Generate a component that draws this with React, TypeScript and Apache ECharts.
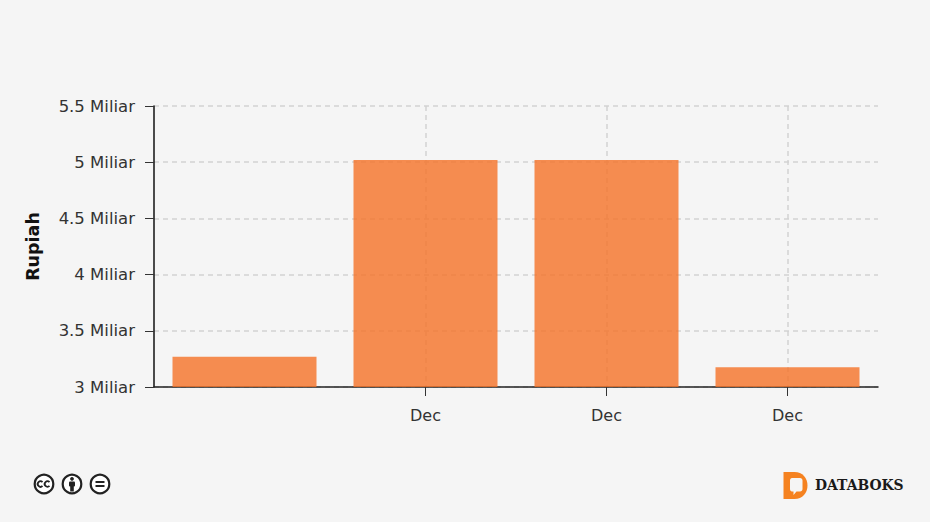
import React, { useEffect, useRef } from "react";
import * as echarts from "echarts";

const categories = ["", "Dec", "Dec", "Dec"];
const values = [3.27, 5.02, 5.02, 3.175];
const yUnit = "Miliar";
const yName = "Rupiah";
const brand = "DATABOKS";

const BG = "#f5f5f5";
const ORANGE = "#f57227";

echarts.graphic.registerShape(
  "dbkOuter",
  echarts.graphic.extendPath("M0 0H11C19 0 24 6 24 13.5C24 21 19 27 11 27H0Z", {})
);
echarts.graphic.registerShape(
  "dbkInner",
  echarts.graphic.extendPath("M2 0H10C11.5 0 12.5 1 12.5 2.5V11C12.5 12.5 11.5 13.5 10 13.5H6.5L3.5 17V13.5H2C.8 13.5 0 12.5 0 11V2.5C0 1 .8 0 2 0Z", {})
);

const ring = (x: number) => ({
  type: "circle",
  shape: { cx: x, cy: 484, r: 9.3 },
  style: { fill: "#ffffff", stroke: "#222222", lineWidth: 2.2 },
});
const ccArc = (cx: number) => ({
  type: "arc",
  shape: { cx, cy: 484, r: 2.8, startAngle: Math.PI * 0.25, endAngle: Math.PI * 1.75, clockwise: true },
  style: { stroke: "#222222", lineWidth: 1.8, fill: "none" },
});

export default function App() {
  const ref = useRef<HTMLDivElement>(null);
  useEffect(() => {
    document.body.style.margin = "0";
    document.body.style.background = BG;
    const chart = echarts.init(ref.current!, null, { renderer: "svg" });
    chart.setOption({
      animation: false,
      backgroundColor: BG,
      textStyle: { fontFamily: "DejaVu Sans" },
      grid: { left: 154, right: 52, top: 106, bottom: 135, containLabel: false },
      xAxis: {
        type: "category",
        data: categories,
        boundaryGap: true,
        axisLine: { lineStyle: { color: "#222222", width: 1.5 } },
        axisTick: {
          show: true,
          alignWithLabel: true,
          length: 9,
          interval: (i: number) => i > 0,
          lineStyle: { color: "#333333", width: 1 },
        },
        axisLabel: { color: "#333333", fontSize: 16, margin: 20, interval: 0 },
        splitLine: {
          show: true,
          alignWithLabel: true,
          interval: (i: number) => i > 0,
          lineStyle: { color: "#d2d2d2", type: [5, 4], width: 1.5 },
        },
      },
      yAxis: {
        type: "value",
        min: 3,
        max: 5.5,
        interval: 0.5,
        name: yName,
        nameLocation: "middle",
        nameGap: 112,
        nameTextStyle: { fontSize: 17.5, fontWeight: "bold", color: "#111111" },
        axisLine: { show: true, lineStyle: { color: "#111111", width: 1.5 } },
        axisTick: { show: true, length: 9, lineStyle: { color: "#333333", width: 1 } },
        axisLabel: {
          color: "#333333",
          fontSize: 16.5,
          margin: 19,
          formatter: (v: number) => `${v} ${yUnit}`,
        },
        splitLine: { show: true, lineStyle: { color: "#d2d2d2", type: [5, 4], width: 1.5 } },
      },
      series: [
        {
          type: "bar",
          data: values,
          barWidth: 144,
          itemStyle: { color: ORANGE, opacity: 0.8 },
        },
      ],
      graphic: [
        ring(44),
        ccArc(40.5),
        ccArc(47.5),
        ring(72),
        { type: "circle", shape: { cx: 72, cy: 478.8, r: 1.9 }, style: { fill: "#222222" } },
        { type: "rect", shape: { x: 69, y: 481.5, width: 6, height: 5, r: 1 }, style: { fill: "#222222" } },
        { type: "rect", shape: { x: 70.2, y: 485, width: 3.6, height: 6.5 }, style: { fill: "#222222" } },
        ring(100),
        { type: "rect", shape: { x: 95.5, y: 481, width: 9, height: 2 }, style: { fill: "#222222" } },
        { type: "rect", shape: { x: 95.5, y: 485, width: 9, height: 2 }, style: { fill: "#222222" } },
        { type: "dbkOuter", x: 783.5, y: 472, style: { fill: "#f58220" } },
        { type: "dbkInner", x: 790, y: 478, style: { fill: BG } },
        {
          type: "text",
          x: 815,
          y: 478,
          style: {
            text: brand,
            fill: "#1a1a1a",
            font: "bold 13.9px 'DejaVu Serif'",
          },
        },
      ],
    });
    return () => chart.dispose();
  }, []);
  return <div ref={ref} style={{ width: 930, height: 522 }} />;
}
